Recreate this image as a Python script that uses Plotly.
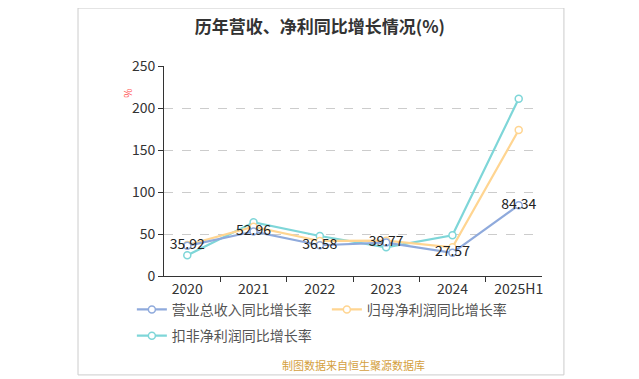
import plotly.graph_objects as go

categories = ["2020", "2021", "2022", "2023", "2024", "2025H1"]
revenue_growth = [35.92, 52.96, 36.58, 39.77, 27.57, 84.34]
net_profit_growth = [36.9, 58.7, 41.7, 42.0, 34.2, 173.8]
deducted_profit_growth = [24.6, 63.9, 47.6, 34.2, 48.4, 211.0]
revenue_labels = ["35.92", "52.96", "36.58", "39.77", "27.57", "84.34"]

names = ["营业总收入同比增长率", "归母净利润同比增长率", "扣非净利润同比增长率"]
colors = ["#8FAADC", "#FFD591", "#7ED6D8"]

font_family = "Noto Sans CJK SC, Noto Sans, sans-serif"

fig = go.Figure()

series = [revenue_growth, net_profit_growth, deducted_profit_growth]
order = [2, 1, 0]
for i in order:
    fig.add_trace(go.Scatter(
        x=categories, y=series[i], name=names[i],
        mode="lines+markers+text" if i == 0 else "lines+markers",
        text=revenue_labels if i == 0 else None,
        textposition="middle center",
        textfont=dict(size=14, color="#222", family=font_family),
        line=dict(color=colors[i], width=2.2),
        marker=dict(symbol="circle", size=7, color="white",
                    line=dict(color=colors[i], width=1.5)),
        legend="legend2" if i == 2 else "legend",
        legendrank=i,
        cliponaxis=False,
    ))

fig.update_layout(
    width=639, height=379,
    margin=dict(l=156, r=105, t=58, b=111, autoexpand=False),
    paper_bgcolor="white", plot_bgcolor="white",
    font=dict(family=font_family, color="#333"),
    title=dict(text="<b>历年营收、净利同比增长情况(%)</b>", x=0.488, xanchor="center",
               y=0.951, yanchor="middle", font=dict(size=17, color="#333")),
    showlegend=True,
    legend=dict(orientation="h", x=-0.085, y=-0.085, xanchor="left", yanchor="top",
                font=dict(size=14, color="#555"), bgcolor="rgba(0,0,0,0)",
                traceorder="normal", itemwidth=30, entrywidth=150),
    legend2=dict(orientation="h", x=-0.085, y=-0.21, xanchor="left", yanchor="top",
                 font=dict(size=14, color="#555"), bgcolor="rgba(0,0,0,0)",
                 itemwidth=30),
    xaxis=dict(type="category", showline=True, linecolor="#333", linewidth=1,
               ticks="outside", ticklen=5, tickcolor="#333",
               tickson="boundaries", showgrid=False,
               tickfont=dict(size=14, color="#333")),
    yaxis=dict(range=[0, 250], dtick=50, showline=True, linecolor="#333",
               linewidth=1, ticks="outside", ticklen=5, tickcolor="#333",
               showgrid=True, gridcolor="#cccccc", griddash="dash",
               zeroline=False, tickfont=dict(size=14, color="#333")),
    shapes=[dict(type="rect", xref="paper", yref="paper",
                 x0=-0.2275, x1=1.058, y0=-0.471, y1=1.276,
                 line=dict(color="#cccccc", width=1), fillcolor="rgba(0,0,0,0)",
                 layer="below")],
    annotations=[
        dict(text="%", xref="paper", yref="paper", x=-0.118, y=0.9,
             showarrow=False, textangle=90, font=dict(size=10, color="#FF5555")),
        dict(text="制图数据来自恒生聚源数据库", xref="paper", yref="paper",
             x=0.5, y=-0.424, yanchor="middle", showarrow=False,
             font=dict(size=11, color="#D4A040")),
    ],
)

fig.write_html("out.html")
